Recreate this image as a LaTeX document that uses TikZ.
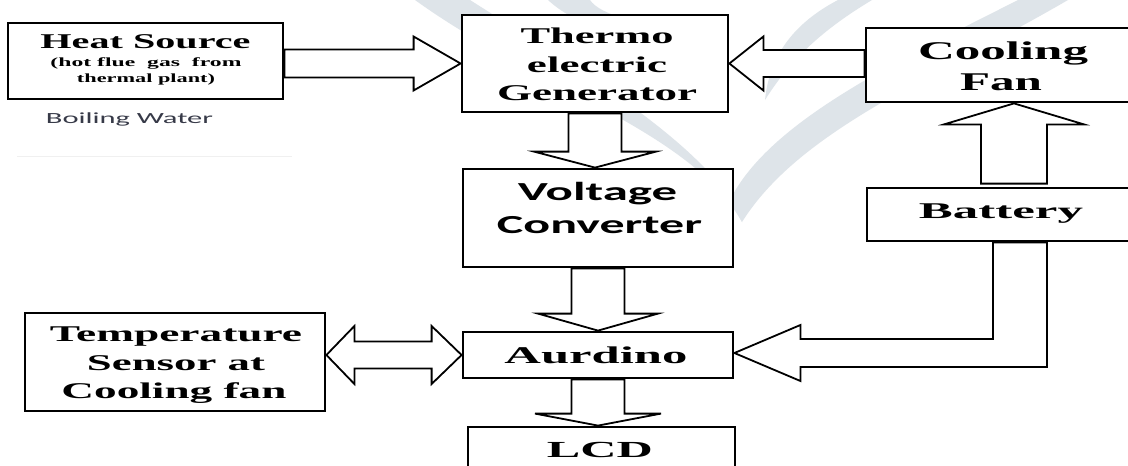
\documentclass[tikz,border=0pt]{standalone}
\usepackage{graphicx}
\usepackage{fontspec}
\setmainfont{Liberation Serif}
\newfontfamily\carl{Carlito}
\usetikzlibrary{calc}
\pgfdeclarelayer{bg}
\pgfsetlayers{bg,main}
\definecolor{wm}{RGB}{222,228,233}
\definecolor{bw}{RGB}{55,58,72}
\definecolor{faint}{RGB}{240,240,240}
\tikzset{
  box/.style={draw=black, line width=2.8pt, fill=white, inner sep=0pt},
  barrow/.style={draw=black, line width=1.8pt, fill=white, line join=miter},
  lbl/.style={anchor=base, inner sep=0pt, outer sep=0pt, text=black},
}
\newcommand\fw[2]{\resizebox{#1pt}{\height}{#2}}
% horizontal block arrow: #1 tail, #2 tip, #3 signed head offset (x), #4 shaft half width, #5 head half width
\newcommand\blockH[5]{%
  \draw[barrow] ($(#1|-#2)+(0,-#4)$) -- ($(#2)+(#3,-#4)$) -- ($(#2)+(#3,-#5)$) -- (#2)
    -- ($(#2)+(#3,#5)$) -- ($(#2)+(#3,#4)$) -- ($(#1|-#2)+(0,#4)$) -- cycle;}
% vertical block arrow: #1 tail, #2 tip, #3 signed head offset (y), #4 shaft half width, #5 head half width
\newcommand\blockV[5]{%
  \draw[barrow] ($(#2|-#1)+(-#4,0)$) -- ($(#2)+(-#4,#3)$) -- ($(#2)+(-#5,#3)$) -- (#2)
    -- ($(#2)+(#5,#3)$) -- ($(#2)+(#4,#3)$) -- ($(#2|-#1)+(#4,0)$) -- cycle;}
\begin{document}
\begin{tikzpicture}[x=1pt,y=-1pt]
\useasboundingbox (0,0) rectangle (1128,466);
\begin{pgfonlayer}{bg}
  \fill[white] (0,0) rectangle (1128,466);
\end{pgfonlayer}
\begin{scope}
\clip (0,0) rectangle (1128,466);

% boxes
\node[box, minimum width=275pt, minimum height=76pt] (heat) at (145.5,61) {};
\node[box, minimum width=266pt, minimum height=97pt] (teg) at (595,63.5) {};
\node[box, minimum width=270pt, minimum height=98pt] (vc) at (598,218) {};
\node[box, minimum width=270pt, minimum height=46pt] (aurd) at (598,355) {};
\node[box, minimum width=267pt, minimum height=60pt] (lcd) at (601.5,457) {};
\node[box, minimum width=274pt, minimum height=74pt] (cool) at (1003,65) {};
\node[box, minimum width=273pt, minimum height=53pt] (bat) at (1003.5,214.5) {};
\node[box, minimum width=300pt, minimum height=98pt] (temp) at (175,362) {};

% texts
\node[lbl] (heat-t1) at (145.5,48) {\fontsize{21}{21}\selectfont\bfseries\fw{210}{Heat Source}};
\node[lbl] (heat-t2) at (146,66) {\fontsize{12.5}{12.5}\selectfont\bfseries\fw{191}{(hot flue\ \ gas\ \ from}};
\node[lbl] (heat-t3) at (146,82) {\fontsize{12.5}{12.5}\selectfont\bfseries\fw{138}{thermal plant)}};
\node[lbl, text=bw] (boil) at (129.5,123) {\carl\fontsize{15.5}{15.5}\selectfont\fw{167}{Boiling Water}};

\node[lbl] (teg-t1) at (597,43) {\fontsize{22.5}{22.5}\selectfont\bfseries\fw{153}{Thermo}};
\node[lbl] (teg-t2) at (597,72) {\fontsize{22.5}{22.5}\selectfont\bfseries\fw{140}{electric}};
\node[lbl] (teg-t3) at (597,100) {\fontsize{22.5}{22.5}\selectfont\bfseries\fw{200}{Generator}};

\node[lbl] (cool-t1) at (1003,59) {\fontsize{25.5}{25.5}\selectfont\bfseries\fw{170}{Cooling}};
\node[lbl] (cool-t2) at (1001,90) {\fontsize{25.5}{25.5}\selectfont\bfseries\fw{82}{Fan}};

\node[lbl] (vc-t1) at (597.5,200) {\carl\fontsize{26}{26}\selectfont\bfseries\fw{159}{Voltage}};
\node[lbl] (vc-t2) at (599.5,233) {\carl\fontsize{26}{26}\selectfont\bfseries\fw{205}{Converter}};

\node[lbl] (bat-t) at (1001,218) {\fontsize{22.5}{22.5}\selectfont\bfseries\fw{164}{Battery}};

\node[lbl] (temp-t1) at (176,341) {\fontsize{22.5}{22.5}\selectfont\bfseries\fw{252}{Temperature}};
\node[lbl] (temp-t2) at (176,370) {\fontsize{22.5}{22.5}\selectfont\bfseries\fw{178}{Sensor at}};
\node[lbl] (temp-t3) at (174,398) {\fontsize{22.5}{22.5}\selectfont\bfseries\fw{225}{Cooling fan}};

\node[lbl] (aurd-t) at (596,363) {\fontsize{24}{24}\selectfont\bfseries\fw{183}{Aurdino}};
\node[lbl] (lcd-t) at (600,457) {\fontsize{23}{23}\selectfont\bfseries\fw{106}{LCD}};

% helper coordinates
\coordinate (tv) at (teg.south|-vc.north);
\coordinate (va) at (vc.south|-aurd.north);
\coordinate (al) at (aurd.south|-lcd.north);
\coordinate (bt) at ($(bat.north)+(10.5,-3)$);
\coordinate (bc) at (bt|-cool.south);
\coordinate (ta) at (temp.east|-aurd.west);
\coordinate (b1) at ($(bat.south)+(-10.5,0)$);
\coordinate (b2) at ($(bat.south)+(43.5,0)$);
\coordinate (ae) at ($(aurd.east)+(0,-2)$);

\begin{pgfonlayer}{bg}
  % watermark
  \fill[wm] (415,0) .. controls (540,90) and (690,130) .. (742,222)
            .. controls (715,150) and (580,70) .. (470,0) -- cycle;
  \fill[wm] (742,222) .. controls (800,130) and (930,80) .. (1068,0)
            -- (1018,0) .. controls (900,60) and (770,120) .. (730,200) -- cycle;
  \fill[wm] (765,100) .. controls (770,50) and (800,20) .. (838,0)
            -- (872,0) .. controls (822,30) and (790,60) .. (765,100) -- cycle;
  \fill[wm] (548,0) .. controls (575,25) and (620,40) .. (690,30)
            .. controls (640,25) and (600,15) .. (590,0) -- cycle;
  \fill[wm] (980,35) .. controls (990,20) and (1005,8) .. (1020,0)
            -- (1040,0) .. controls (1015,12) and (995,22) .. (980,35) -- cycle;
  \draw[faint, line width=1pt] (17,156) -- (292,156);

  % connectors
  \blockH{heat.east}{teg.west}{-47}{14}{27}
  \blockH{cool.west}{teg.east}{34}{13.5}{27}
  \blockV{teg.south}{tv}{-16}{26.5}{61}
  \blockV{vc.south}{va}{-17}{26.5}{60}
  \blockV{aurd.south}{al}{-12}{26.5}{63}
  \blockV{bt}{bc}{21}{33}{70}
  \draw[barrow] (ta) -- ++(28,-29) -- ++(0,15.5) -- ($(aurd.west)+(-30,-13.5)$) -- ++(0,-15.5)
     -- (aurd.west) -- ++(-30,29) -- ++(0,-15.5) -- ($(ta)+(28,13.5)$) -- ++(0,15.5) -- cycle;
  \draw[barrow] (b1) -- ($(b1|-ae)+(0,-14)$) -- ($(ae)+(66,-14)$) -- ($(ae)+(66,-28)$) -- (ae)
     -- ($(ae)+(66,28)$) -- ($(ae)+(66,14)$) -- ($(b2|-ae)+(0,14)$) -- (b2) -- cycle;
\end{pgfonlayer}
\end{scope}
\end{tikzpicture}
\end{document}
